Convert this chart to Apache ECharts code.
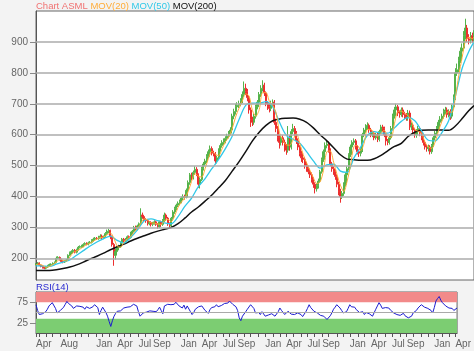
<!DOCTYPE html>
<html>
<head>
<meta charset="utf-8">
<script src="https://cdn.jsdelivr.net/npm/echarts@6.0.0/dist/echarts.min.js"></script>
<style>
html, body { margin: 0; padding: 0; background: #f3f3f3; }
#chart { width: 474px; height: 351px; }
</style>
</head>
<body>
<div id="chart"></div>
<script>
// weekly candles, first week starting 2019-04-22
const closes = [
  182,185,178,174,170,168,172,176,180,181, 184,186,200,203,196,190,188,192,195,210,
  218,222,226,220,228,236,238,240,245,248, 246,250,252,258,262,265,264,268,272,266,
  270,280,288,290,270,245,210,222,235,238, 250,262,258,262,270,268,282,288,300,296,
  305,312,340,335,325,322,312,316,310,314, 318,310,302,318,310,322,340,330,312,305,
  330,350,362,372,378,385,395,400,398,420, 445,470,460,478,488,470,440,455,490,505,
  515,530,545,555,540,538,515,525,550,565, 575,580,588,595,605,615,660,675,690,695,
  700,710,730,750,740,720,680,650,640,660, 690,705,730,750,760,735,700,690,685,700,
  705,640,620,590,575,590,575,560,550,590, 560,610,620,605,580,560,540,525,520,500,
  490,480,470,455,440,425,435,450,480,520, 545,565,570,550,505,490,480,465,440,415,
  400,410,440,470,490,535,560,575,580,560, 545,540,550,600,615,625,630,615,600,605,
  590,600,585,610,625,620,600,580,575,590, 620,660,680,690,670,665,680,665,660,655,
  670,625,630,615,600,610,620,605,590,575, 560,555,560,545,565,590,605,620,640,650,
  660,675,680,665,675,660,690,720,800,810, 840,870,880,920,945,910,905,920,910,925
];
const opens = [
  180,182,185,178,174,170,168,172,176,180, 181,184,188,200,203,196,190,188,192,196,
  210,218,222,226,220,228,236,238,240,245, 248,246,250,252,258,262,265,264,268,272,
  266,270,280,288,290,270,245,210,222,235, 238,250,262,258,262,270,268,282,288,300,
  296,305,312,340,335,325,322,312,316,310, 314,318,310,302,318,310,322,340,330,312,
  305,330,350,362,372,378,385,395,400,398, 420,445,470,460,478,488,470,440,455,490,
  505,515,530,545,555,540,538,515,525,550, 565,575,580,588,595,605,615,660,675,690,
  695,700,710,730,750,740,720,680,650,640, 660,690,705,730,750,760,735,700,690,685,
  700,705,640,620,590,575,590,575,560,550, 590,560,610,620,605,580,560,540,525,520,
  500,490,480,470,455,440,425,435,450,480, 520,545,565,570,550,505,490,480,465,440,
  415,400,410,440,470,490,535,560,575,580, 560,545,540,550,600,615,625,630,615,600,
  605,590,600,585,610,625,620,600,580,575, 590,620,660,680,690,670,665,680,665,660,
  655,670,625,630,615,600,610,620,605,590, 575,560,555,560,545,565,590,605,620,640,
  650,660,675,680,665,675,660,690,720,800, 810,840,870,880,920,945,910,905,920,910
];
const lows = [
  177,179,176,171,167,165,165,169,173,177, 178,181,186,197,193,187,184,185,189,193,
  207,214,218,216,216,225,232,234,236,241, 242,242,246,248,254,258,260,260,264,262,
  262,266,276,282,262,238,176,196,214,226, 234,246,252,253,258,262,264,278,284,290,
  291,300,308,328,320,315,306,307,303,304, 309,305,296,298,303,305,318,325,305,298,
  300,325,344,356,366,372,378,388,390,394, 414,438,452,455,470,466,428,426,450,484,
  498,508,524,538,533,530,505,507,518,545, 558,567,572,580,588,598,608,650,665,680,
  686,692,702,722,728,708,668,625,628,632, 652,682,697,722,740,725,692,680,672,676,
  692,632,608,578,555,565,565,545,535,542, 548,552,602,594,570,550,530,512,508,490,
  480,472,460,445,428,410,416,426,444,474, 512,538,556,542,498,480,470,454,430,404,
  380,392,402,432,462,485,528,550,566,552, 536,528,530,544,592,606,616,606,592,592,
  582,584,576,578,602,610,592,565,566,568, 584,614,652,672,660,655,658,656,650,645,
  645,615,615,605,590,590,600,595,582,565, 552,545,546,536,538,560,582,598,612,632,
  642,652,666,655,656,648,652,684,712,790, 802,832,858,872,908,900,892,895,898,900
];
const highs = [
  185,188,187,181,177,173,175,179,183,184, 187,190,206,207,206,199,194,195,198,213,
  222,226,230,230,231,240,242,244,249,252, 252,254,256,262,267,269,269,273,278,277,
  274,285,293,296,293,274,250,232,240,244, 254,266,266,266,274,274,286,292,305,306,
  309,316,362,348,340,330,326,321,320,318, 323,322,314,322,322,327,348,345,334,316,
  334,356,367,377,384,390,400,407,406,426, 452,476,477,484,498,495,475,462,496,512,
  522,537,552,565,562,548,544,532,556,572, 582,588,595,603,612,624,668,684,700,705,
  710,718,740,772,765,748,726,688,658,668, 697,712,738,760,776,768,740,708,700,710,
  714,712,652,628,600,600,598,584,570,628, 598,618,635,628,612,588,566,548,536,528,
  512,500,490,478,462,446,442,458,486,526, 552,575,582,578,556,512,498,488,472,448,
  425,418,446,478,498,540,568,582,588,586, 566,552,556,606,622,634,640,636,622,612,
  612,606,608,616,632,632,626,604,586,597, 628,668,690,700,696,678,688,688,674,670,
  680,678,640,636,622,618,628,626,612,596, 582,568,568,566,570,596,612,628,648,660,
  668,684,690,688,682,682,698,730,815,830, 852,882,895,935,975,955,925,932,930,938
];
// moving averages: [week index, value]
const ma20 = [
  [0,180],[2,181],[4,177],[6,171],[8,174],[10,180],[12,188],[14,196],[16,194],[18,191],
  [20,204],[22,219],[24,224],[26,230],[28,237],[30,245],[32,249],[34,256],[36,262],[38,267],
  [40,269],[42,276],[44,282],[46,266],[48,240],[50,236],[52,252],[54,263],[56,270],[58,285],
  [60,297],[62,313],[64,328],[66,324],[68,315],[70,314],[72,311],[74,310],[76,322],[78,326],
  [80,319],[82,337],[84,365],[86,382],[88,395],[90,416],[92,449],[94,474],[96,466],[98,463],
  [100,490],[102,524],[104,546],[106,537],[108,532],[110,554],[112,577],[114,592],[116,619],[118,657],
  [120,685],[122,709],[124,732],[126,725],[128,678],[130,660],[132,681],[134,736],[136,736],[138,708],
  [140,695],[142,670],[144,606],[146,582],[148,567],[150,566],[152,583],[154,604],[156,571],[158,536],
  [160,509],[162,485],[164,461],[166,442],[168,447],[170,485],[172,545],[174,547],[176,511],[178,471],
  [180,437],[182,416],[184,450],[186,501],[188,562],[190,565],[192,549],[194,572],[196,617],[198,617],
  [200,602],[202,595],[204,605],[206,614],[208,593],[210,591],[212,637],[214,675],[216,676],[218,669],
  [220,662],[222,645],[224,617],[226,611],[228,606],[230,576],[232,560],[234,556],[236,576],[238,612],
  [240,643],[242,666],[244,674],[246,672],[248,721],[250,792],[252,850],[254,904],[256,915],[258,911],[259,915]
];
const ma50 = [
  [0,176],[4,175],[8,174],[12,181],[16,188],[20,195],[24,210],[28,225],[32,240],[36,253],
  [40,264],[44,272],[48,258],[52,250],[56,268],[60,292],[64,322],[68,328],[72,322],[76,315],
  [80,312],[84,335],[88,368],[92,395],[96,432],[100,458],[104,490],[108,520],[112,555],[116,595],
  [120,648],[124,695],[128,702],[132,702],[136,707],[140,690],[144,640],[148,598],[152,585],[156,572],
  [160,545],[164,515],[168,492],[172,502],[176,505],[180,482],[184,478],[188,525],[192,560],[196,598],
  [200,610],[204,605],[208,605],[212,622],[216,643],[220,655],[224,645],[228,612],[232,582],[236,580],
  [240,607],[244,645],[248,725],[252,815],[256,870],[259,900]
];
const ma200 = [
  [0,161],[4,161],[8,161],[12,163],[16,167],[20,172],[24,179],[28,188],[32,198],[36,207],
  [40,217],[44,228],[48,237],[52,246],[56,256],[60,265],[64,273],[68,281],[72,288],[76,294],
  [80,300],[84,312],[88,330],[92,350],[96,366],[100,385],[104,405],[108,428],[112,452],[116,482],
  [120,512],[124,545],[128,580],[132,608],[136,630],[140,645],[144,651],[148,653],[152,654],[156,650],
  [160,640],[164,622],[168,600],[172,580],[176,558],[180,535],[184,521],[188,519],[192,517],[196,517],
  [200,522],[204,533],[208,548],[212,562],[216,572],[220,594],[224,608],[228,614],[232,615],[236,615],
  [240,615],[244,614],[248,628],[252,652],[256,678],[259,694]
];
const rsi = [
  69,55,45,42,47,49,52,58,66,70, 74,78,60,49,52,55,57,63,70,77,
  72,68,66,60,64,66,70,65,61,63, 58,64,67,60,58,64,69,66,62,45,
  55,63,66,50,41,28,16,30,41,48, 53,57,54,58,61,59,63,66,64,67,
  70,71,66,52,41,45,49,46,51,48, 54,50,53,57,52,57,63,55,47,66,
  64,70,68,69,72,70,75,78,66,70, 61,68,58,66,62,52,45,50,58,61,
  64,60,66,62,55,52,48,57,62,66, 64,69,64,62,67,66,72,75,73,78,
  74,70,69,64,55,37,30,41,45,52, 58,61,69,66,60,49,47,50,45,52,
  48,41,38,44,41,47,43,41,44,52, 61,55,50,45,48,53,50,46,49,45,
  43,49,47,45,40,41,52,60,69,62, 58,53,55,49,45,43,44,41,38,33,
  36,42,49,58,63,69,65,61,55,49, 47,52,60,69,64,61,63,57,53,50,
  48,52,45,50,49,47,43,41,44,58, 66,74,68,60,57,62,58,61,56,52,
  49,51,45,47,43,45,48,42,40,37, 36,41,49,46,55,61,65,69,67,63,
  66,60,58,55,49,62,78,84,89,80, 74,70,66,68,61,57,60,55,57,61
];
const priceTicks = [200, 300, 400, 500, 600, 700, 800, 900];
const rsiTicks = [25, 75];
const tickLabels = ['2019-04','2019-08','2020-01','2020-04','2020-07','2020-09','2021-01','2021-04',
  '2021-07','2021-09','2022-01','2022-04','2022-07','2022-09','2023-01','2023-04','2023-07','2023-09',
  '2024-01','2024-04'];
const monthNames = ['Jan','Feb','Mar','Apr','May','Jun','Jul','Aug','Sep','Oct','Nov','Dec'];

const firstWeek = Date.UTC(2019, 3, 22);
const weeks = closes.map((c, i) => new Date(firstWeek + i * 7 * 86400000).toISOString().slice(0, 10));
const candles = closes.map((c, i) => [opens[i], c, lows[i], highs[i]]);

const tickIdx = new Set();
weeks.forEach((w, i) => {
  if (i === 0 || w.slice(0, 7) !== weeks[i - 1].slice(0, 7)) tickIdx.add(i);
});
const labelIdx = new Set(tickLabels.map(m => weeks.findIndex(w => w.startsWith(m))));

const font = 'Liberation Sans, Arial, sans-serif';
const chart = echarts.init(document.getElementById('chart'));

const titleText = (color) => ({ color: color, fontSize: 9.5, fontWeight: 'normal', fontFamily: font });

chart.setOption({
  animation: false,
  backgroundColor: '#f3f3f3',
  textStyle: { fontFamily: font },
  title: [
    {
      left: 36, top: 1, padding: 0,
      text: '{a|Chart ASML} {b|MOV(20)} {c|MOV(50)} {d|MOV(200)}',
      textStyle: {
        fontSize: 9.5, fontWeight: 'normal',
        rich: {
          a: titleText('#f07272'),
          b: titleText('#ffac38'),
          c: titleText('#30c8e8'),
          d: titleText('#111')
        }
      }
    },
    {
      left: 36, top: 282, padding: 0,
      text: 'RSI(14)',
      textStyle: titleText('#2a2ad0')
    }
  ],
  grid: [
    { left: 36, right: -1, top: 11, height: 269, show: true, backgroundColor: '#fff', borderColor: '#666', borderWidth: 1 },
    { left: 36, right: -1, top: 292, height: 41, show: true, backgroundColor: '#fff', borderColor: '#666', borderWidth: 1 }
  ],
  xAxis: [
    {
      type: 'category', gridIndex: 0, data: weeks, boundaryGap: false,
      axisLine: { show: false }, axisTick: { show: false }, axisLabel: { show: false },
      splitLine: { show: false }
    },
    {
      type: 'category', gridIndex: 1, data: weeks, boundaryGap: false,
      axisLine: { show: true, lineStyle: { color: '#555' } },
      axisTick: { show: true, interval: i => tickIdx.has(i), length: 4, lineStyle: { color: '#555' } },
      axisLabel: {
        interval: i => labelIdx.has(i),
        formatter: v => monthNames[+v.slice(5, 7) - 1],
        align: 'left', margin: 6, color: '#666', fontSize: 10, fontFamily: font
      },
      splitLine: { show: false }
    }
  ],
  yAxis: [
    {
      type: 'value', gridIndex: 0, min: 130, max: 1000,
      axisLine: { show: true, lineStyle: { color: '#555' } },
      axisTick: { show: true, length: 6, customValues: priceTicks, lineStyle: { color: '#888' } },
      axisLabel: { customValues: priceTicks, color: '#666', fontSize: 10, margin: 8, fontFamily: font },
      splitLine: { show: false }
    },
    {
      type: 'value', gridIndex: 1, min: 0, max: 100,
      axisLine: { show: true, lineStyle: { color: '#555' } },
      axisTick: { show: true, length: 6, customValues: rsiTicks, lineStyle: { color: '#888' } },
      axisLabel: { customValues: rsiTicks, color: '#666', fontSize: 10, margin: 8, fontFamily: font },
      splitLine: { show: false }
    }
  ],
  series: [
    {
      name: 'grid', type: 'line', xAxisIndex: 0, yAxisIndex: 0, data: [], z: 1, silent: true,
      markLine: {
        silent: true, symbol: 'none', label: { show: false },
        lineStyle: { color: '#ababab', width: 1.5, type: 'solid' },
        data: priceTicks.map(v => ({ yAxis: v }))
      }
    },
    {
      name: 'ASML', type: 'candlestick', xAxisIndex: 0, yAxisIndex: 0, data: candles, z: 3,
      barWidth: 1.6,
      itemStyle: { color: '#55b34a', color0: '#ec2f2f', borderColor: '#55b34a', borderColor0: '#ec2f2f', borderWidth: 1 }
    },
    {
      name: 'MOV(200)', type: 'line', xAxisIndex: 0, yAxisIndex: 0, data: ma200, z: 4,
      showSymbol: false, smooth: 0.3, lineStyle: { color: '#111', width: 1.5 }
    },
    {
      name: 'MOV(50)', type: 'line', xAxisIndex: 0, yAxisIndex: 0, data: ma50, z: 4,
      showSymbol: false, smooth: 0.3, lineStyle: { color: '#30c8e8', width: 1.3 }
    },
    {
      name: 'MOV(20)', type: 'line', xAxisIndex: 0, yAxisIndex: 0, data: ma20, z: 4,
      showSymbol: false, smooth: 0.3, lineStyle: { color: '#ffac38', width: 1 }
    },
    {
      name: 'RSI(14)', type: 'line', xAxisIndex: 1, yAxisIndex: 1, data: rsi, z: 4,
      showSymbol: false, lineStyle: { color: '#1c1cd0', width: 1 },
      markArea: {
        silent: true,
        data: [
          [{ yAxis: 75, itemStyle: { color: '#f28a8a' } }, { yAxis: 100 }],
          [{ yAxis: 0, itemStyle: { color: '#7ccd72' } }, { yAxis: 35 }]
        ]
      },
      markLine: {
        silent: true, symbol: 'none', label: { show: false },
        lineStyle: { color: '#aaa', width: 1, type: 'solid' },
        data: [{ yAxis: 50 }]
      }
    }
  ]
});
</script>
</body>
</html>
